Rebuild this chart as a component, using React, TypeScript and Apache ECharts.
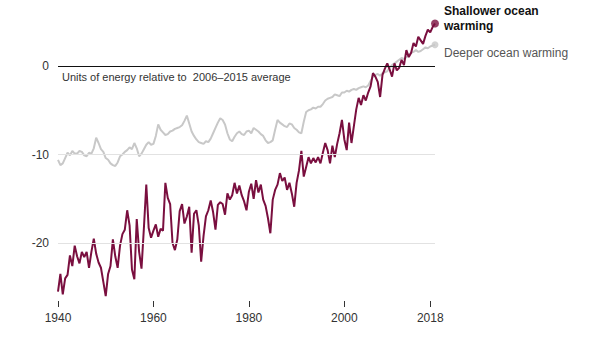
import React, { useEffect, useRef } from "react";
import * as echarts from "echarts";

// Shallower ocean warming, half-year steps from 1940.0
const shallowStart = 1940;
const shallowStep = 0.5;
const shallow = [
  -25.5, -23.5, -25.8, -24.0, -23.6, -21.4, -22.6, -20.3, -21.5, -22.3,
  -21.0, -21.6, -21.0, -22.8, -21.0, -19.5, -21.2, -22.2, -22.8, -24.4,
  -26.0, -23.5, -22.6, -19.6, -21.5, -22.8, -20.3, -19.0, -18.5, -16.3,
  -18.0, -23.0, -24.1, -17.3, -21.0, -22.9, -18.3, -13.4, -18.3, -19.4,
  -18.6, -17.9, -19.3, -18.4, -18.6, -13.2, -14.9, -15.6, -20.0, -20.8,
  -19.6, -16.4, -15.6, -17.8, -17.0, -15.9, -21.1, -16.7, -16.3, -18.0,
  -22.1, -19.2, -17.0, -16.3, -15.2, -16.5, -18.5, -15.7, -15.4, -15.6,
  -16.8, -14.4, -15.1, -14.6, -13.2, -14.4, -13.5, -14.6, -15.3, -16.3,
  -14.2, -13.3, -15.0, -12.9, -14.3, -13.4, -15.1, -15.8, -17.2, -18.9,
  -15.1, -14.0, -13.4, -12.1, -13.0, -12.6, -14.0, -13.2, -14.4, -15.9,
  -13.2, -11.8, -9.6, -12.5, -11.4, -10.3, -11.0, -10.4, -10.9, -10.3,
  -11.0, -9.8, -8.7, -9.5, -11.0, -9.0, -10.3, -8.8, -7.6, -6.1,
  -8.3, -9.5, -6.4, -8.7, -6.8, -4.9, -3.6, -4.4, -3.3, -3.9,
  -3.0, -2.3, -0.8, -1.2, -1.8, -3.5, -1.0, -0.3, 0.3, -0.4,
  -1.2, 0.3, -0.5, -0.2, 0.7, 0.1, 1.8, 1.0, 1.5, 2.6,
  2.2, 3.3, 2.9, 2.5, 3.4, 4.1, 3.8, 4.4, 4.8,
];

// Deeper ocean warming, half-year steps from 1940.0
const deeperStart = 1940;
const deeperStep = 0.5;
const deeper = [
  -10.6, -11.2, -11.0, -10.4, -9.8, -10.1, -9.6, -9.9, -9.9, -9.6,
  -9.7, -10.1, -10.2, -9.8, -9.9, -9.3, -8.1, -8.7, -9.4, -9.7,
  -10.4, -10.6, -11.0, -11.2, -11.3, -10.9, -10.2, -10.0, -9.7, -9.5,
  -9.2, -9.4, -8.7, -9.3, -10.2, -9.9, -9.4, -8.9, -8.6, -8.9,
  -8.8, -7.9, -6.6, -7.2, -7.5, -7.8, -7.7, -7.4, -7.3, -7.1,
  -7.0, -6.9, -6.7, -6.2, -5.6, -6.5, -7.4, -7.9, -8.3, -8.6,
  -8.7, -8.8, -8.5, -8.6, -8.2, -7.6, -7.0, -6.4, -5.9, -6.1,
  -6.6, -7.6, -8.3, -8.5, -8.0, -7.6, -7.4, -7.7, -7.8, -7.4,
  -7.3, -7.6, -7.0, -7.2, -7.4, -7.7, -7.9, -8.4, -8.7, -8.6,
  -8.4, -7.2, -6.1, -6.4, -6.6, -6.8, -6.9, -6.5, -6.6, -7.0,
  -7.2, -7.5, -7.6, -6.3, -5.2, -5.0, -4.9, -4.7, -4.8, -4.6,
  -4.6, -4.3, -3.9, -3.7, -3.6, -3.5, -3.2, -3.3, -3.4, -3.0,
  -3.0, -2.8, -2.9, -2.7, -2.6, -2.7, -2.5, -2.4, -2.3, -2.4,
  -2.2, -1.7, -1.2, -1.0, -0.9, -1.1, -0.8, -0.7, -0.6, -0.2,
  0.1, 0.3, 0.5, 0.7, 0.9, 0.8, 1.0, 1.3, 1.5, 1.6,
  1.8, 1.6, 1.7, 1.9, 2.1, 2.0, 2.2, 2.3, 2.4,
];

const xTicks = [1940, 1960, 1980, 2000, 2018];
const yLabels = [-20, -10, 0];
const gridValues = [-10, -20];

const FONT = "'Liberation Sans', Arial, sans-serif";

function toPairs(start: number, step: number, vals: number[]) {
  return vals.map((v, i) => [start + i * step, v]);
}

export default function App() {
  const ref = useRef<HTMLDivElement>(null);
  useEffect(() => {
    if (!ref.current) return;
    const chart = echarts.init(ref.current, undefined, { renderer: "svg" });
    const sData = toPairs(shallowStart, shallowStep, shallow);
    const dData = toPairs(deeperStart, deeperStep, deeper);
    chart.setOption({
      animation: false,
      grid: { left: 58, right: 165, top: 21.75, bottom: 27.5 },
      xAxis: {
        type: "value",
        min: 1940,
        max: 2019,
        offset: -30.5,
        axisLine: { show: false, onZero: false },
        splitLine: { show: false },
        axisTick: {
          show: true,
          customValues: xTicks,
          length: 6,
          lineStyle: { color: "#333", width: 1 },
        },
        axisLabel: {
          customValues: xTicks,
          margin: 11,
          color: "#333",
          fontSize: 12,
          fontFamily: FONT,
          formatter: (v: number) => String(v),
        },
      },
      yAxis: {
        type: "value",
        min: -30,
        max: 5,
        interval: 10,
        axisLine: { show: false },
        axisTick: { show: false },
        splitLine: { show: false },
        axisLabel: {
          margin: 9,
          color: "#333",
          fontSize: 12,
          fontFamily: FONT,
          formatter: (v: number) => (yLabels.indexOf(v) >= 0 ? String(v) : ""),
        },
      },
      series: [
        {
          type: "line",
          data: dData,
          showSymbol: false,
          lineStyle: { color: "#c8c8c8", width: 2 },
          z: 2,
          markLine: {
            silent: true,
            symbol: "none",
            label: { show: false },
            data: [
              ...gridValues.map((g) => ({ yAxis: g, lineStyle: { color: "#e2e2e2", width: 1, type: "solid" } })),
              { yAxis: 0, lineStyle: { color: "#111", width: 1.2, type: "solid" } },
            ],
          },
        },
        {
          type: "line",
          data: sData,
          showSymbol: false,
          lineStyle: { color: "#7a0f3f", width: 2 },
          z: 3,
        },
        {
          type: "scatter",
          data: [dData[dData.length - 1]],
          symbolSize: 7,
          itemStyle: { color: "#c8c8c8" },
          z: 4,
        },
        {
          type: "scatter",
          data: [sData[sData.length - 1]],
          symbolSize: 8,
          itemStyle: { color: "#7a0f3f" },
          z: 5,
        },
      ],
      graphic: [
        {
          type: "text",
          x: 62,
          y: 77,
          z: 10,
          style: {
            text: "Units of energy relative to  2006\u20132015 average",
            fill: "#333",
            font: `11px ${FONT}`,
            verticalAlign: "middle",
          },
        },
        {
          type: "text",
          x: 444,
          y: 11,
          style: {
            text: "Shallower ocean",
            fill: "#111",
            font: `bold 12px ${FONT}`,
            verticalAlign: "middle",
          },
        },
        {
          type: "text",
          x: 444,
          y: 25.5,
          style: {
            text: "warming",
            fill: "#111",
            font: `bold 12px ${FONT}`,
            verticalAlign: "middle",
          },
        },
        {
          type: "text",
          x: 444,
          y: 53,
          style: {
            text: "Deeper ocean warming",
            fill: "#555",
            font: `12px ${FONT}`,
            verticalAlign: "middle",
          },
        },
      ],
    });
    return () => chart.dispose();
  }, []);
  return (
    <div
      ref={ref}
      style={{ position: "absolute", left: 0, top: 0, width: 600, height: 359 }}
    />
  );
}
